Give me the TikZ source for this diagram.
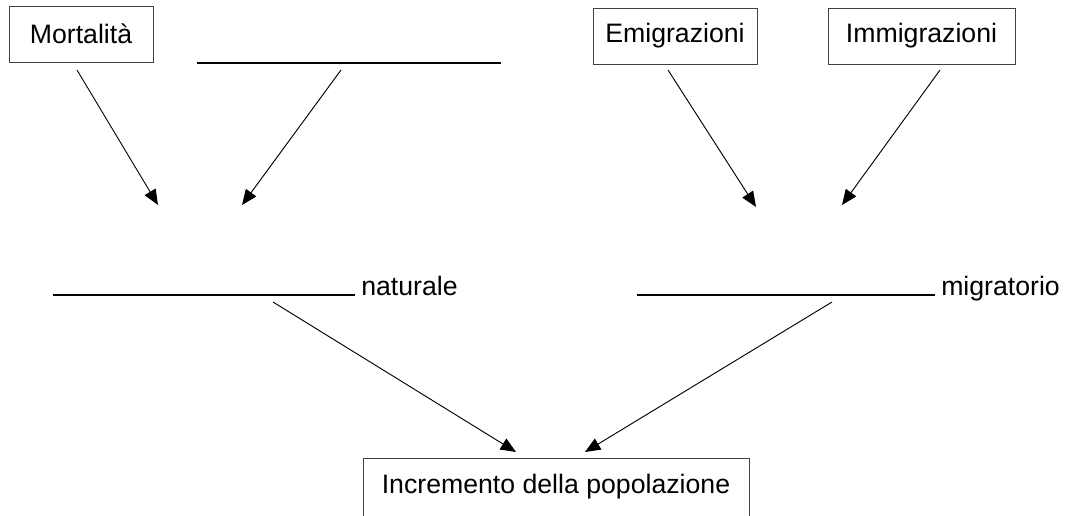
\documentclass[tikz,border=0pt]{standalone}
\usepackage{fontspec}
\setmainfont{Liberation Sans}
\usetikzlibrary{arrows.meta}
\begin{document}
\begin{tikzpicture}[x=0.75pt,y=-0.75pt,
  txt/.style={font=\fontsize{20}{24}\selectfont, inner sep=0pt},
  box/.style={txt, draw=black!75, line width=0.75pt, minimum height=42pt},
  blank/.style={line width=1.5pt},
  arr/.style={line width=0.7pt, -{Triangle[length=11.5pt,width=9.5pt]}}]
\clip (0,0) rectangle (1073,515);
\fill[white] (0,0) rectangle (1073,515);
% boxes
\node[box, minimum width=108pt] (mort) at (81,34) {Mortalità};
\node[box, minimum width=123pt] (emig) at (675,36) {Emigrazioni};
\node[box, minimum width=140.25pt] (immig) at (921.5,36) {Immigrazioni};
\node[box, minimum width=289.5pt, minimum height=43.5pt] (incr) at (556,487) {Incremento della popolazione};
% blank lines
\coordinate (b1a) at (197,63); \coordinate (b1b) at (501,63);
\draw[blank] (b1a) -- (b1b);
\coordinate (b2a) at (53,295); \coordinate (b2b) at (355,295);
\draw[blank] (b2a) -- (b2b);
\coordinate (b3a) at (637,295); \coordinate (b3b) at (935,295);
\draw[blank] (b3a) -- (b3b);
\node[txt, anchor=base west] (nat) at (361,295) {naturale};
\node[txt, anchor=base west] (mig) at (941,295) {migratorio};
% arrow endpoints
\coordinate (m1) at (77,70);   \coordinate (m2) at (158,205);
\coordinate (n1) at (341,70);  \coordinate (n2) at (242,205);
\coordinate (e1) at (668,70);  \coordinate (e2) at (756,207);
\coordinate (i1) at (940,70);  \coordinate (i2) at (842,205);
\coordinate (p1) at (273,302); \coordinate (p2) at (516,452);
\coordinate (q1) at (832,302); \coordinate (q2) at (585,452);
\draw[arr] (m1) -- (m2);
\draw[arr] (n1) -- (n2);
\draw[arr] (e1) -- (e2);
\draw[arr] (i1) -- (i2);
\draw[arr] (p1) -- (p2);
\draw[arr] (q1) -- (q2);
\end{tikzpicture}
\end{document}
